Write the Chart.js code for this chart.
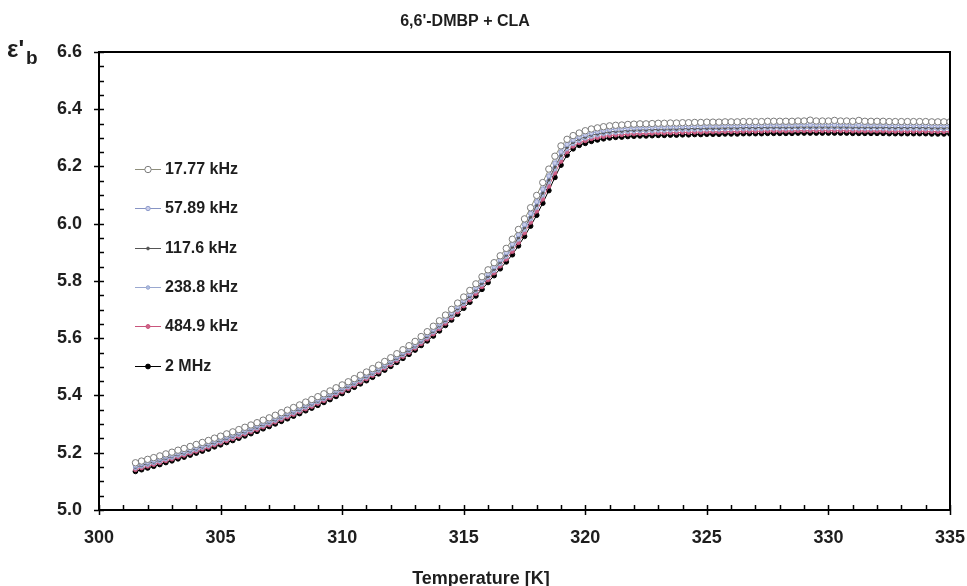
<!DOCTYPE html>
<html>
<head>
<meta charset="utf-8">
<script src="https://cdn.jsdelivr.net/npm/chart.js@4"></script>
<style>
  html, body { margin: 0; padding: 0; background: #fff; }
  canvas { display: block; }
</style>
</head>
<body>
<canvas id="epsChart" width="967" height="586"></canvas>
<script>
const temperature = [301.5,301.75,302,302.25,302.5,302.75,303,303.25,303.5,303.75,304,304.25,304.5,304.75,305,305.25,305.5,305.75,306,306.25,306.5,306.75,307,307.25,307.5,307.75,308,308.25,308.5,308.75,309,309.25,309.5,309.75,310,310.25,310.5,310.75,311,311.25,311.5,311.75,312,312.25,312.5,312.75,
  313,313.25,313.5,313.75,314,314.25,314.5,314.75,315,315.25,315.5,315.75,316,316.25,316.5,316.75,317,317.25,317.5,317.75,318,318.25,318.5,318.75,319,319.25,319.5,319.75,320,320.25,320.5,320.75,321,
  321.25,321.5,321.75,322,322.25,322.5,322.75,323,323.25,323.5,323.75,324,324.25,324.5,324.75,325,325.25,325.5,325.75,326,326.25,326.5,326.75,327,327.25,327.5,327.75,328,328.25,328.5,328.75,329,329.25,329.5,329.75,330,330.25,330.5,330.75,331,331.25,331.5,331.75,332,332.25,332.5,332.75,333,333.25,333.5,333.75,334,334.25,334.5,334.75,335];

const eps17k = [5.165,5.171,5.177,5.183,5.189,5.196,5.202,5.209,5.215,5.222,5.229,5.236,5.243,5.251,5.258,5.266,5.273,5.281,5.289,5.297,5.305,5.314,5.322,5.331,5.340,5.349,5.358,5.367,5.377,5.386,5.396,5.406,5.416,5.427,5.437,5.448,5.459,5.471,5.482,5.494,5.506,5.519,5.532,5.546,5.560,5.574,
  5.589,5.606,5.623,5.642,5.661,5.681,5.701,5.723,5.744,5.767,5.790,5.815,5.839,5.864,5.888,5.914,5.946,5.980,6.017,6.056,6.099,6.144,6.191,6.236,6.272,6.295,6.308,6.317,6.325,6.331,6.335,6.339,6.342,
  6.344,6.345,6.347,6.348,6.349,6.349,6.350,6.351,6.351,6.352,6.352,6.353,6.353,6.354,6.354,6.355,6.355,6.355,6.356,6.356,6.356,6.357,6.357,6.357,6.357,6.358,6.358,6.358,6.358,6.358,6.359,6.359,6.362,6.359,6.359,6.359,6.361,6.359,6.359,6.358,6.361,6.358,6.358,6.358,6.358,6.357,6.357,6.357,6.357,6.357,6.357,6.357,6.356,6.356,6.356,6.356];

const eps57k = [5.155,5.161,5.167,5.173,5.179,5.186,5.192,5.199,5.205,5.212,5.219,5.226,5.233,5.241,5.248,5.256,5.263,5.271,5.279,5.287,5.295,5.304,5.312,5.321,5.330,5.339,5.348,5.357,5.367,5.376,5.386,5.396,5.406,5.417,5.427,5.438,5.449,5.461,5.472,5.484,5.496,5.509,5.522,5.536,5.550,5.564,
  5.579,5.596,5.613,5.631,5.650,5.669,5.689,5.711,5.732,5.754,5.777,5.801,5.825,5.850,5.874,5.899,5.929,5.962,5.997,6.036,6.077,6.121,6.167,6.212,6.251,6.277,6.293,6.303,6.311,6.317,6.322,6.326,6.329,
  6.331,6.332,6.334,6.335,6.336,6.336,6.337,6.338,6.338,6.339,6.339,6.340,6.340,6.341,6.341,6.342,6.342,6.342,6.343,6.343,6.343,6.344,6.344,6.344,6.344,6.345,6.345,6.345,6.345,6.345,6.346,6.346,6.346,6.346,6.346,6.346,6.346,6.346,6.346,6.345,6.345,6.345,6.345,6.345,6.345,6.344,6.344,6.344,6.344,6.344,6.344,6.344,6.343,6.343,6.343,6.343];

const eps117k = [5.150,5.156,5.162,5.168,5.174,5.181,5.187,5.194,5.200,5.207,5.214,5.221,5.228,5.236,5.243,5.251,5.258,5.266,5.274,5.282,5.290,5.299,5.307,5.316,5.325,5.334,5.343,5.352,5.362,5.371,5.381,5.391,5.401,5.412,5.422,5.433,5.444,5.456,5.467,5.479,5.491,5.504,5.517,5.531,5.545,5.559,
  5.574,5.591,5.607,5.625,5.644,5.663,5.683,5.704,5.725,5.747,5.769,5.793,5.817,5.842,5.866,5.891,5.919,5.952,5.987,6.024,6.065,6.108,6.154,6.199,6.239,6.268,6.285,6.296,6.303,6.310,6.314,6.318,6.321,
  6.323,6.324,6.326,6.327,6.328,6.328,6.329,6.330,6.330,6.331,6.331,6.332,6.332,6.333,6.333,6.334,6.334,6.334,6.335,6.335,6.335,6.336,6.336,6.336,6.336,6.337,6.337,6.337,6.337,6.337,6.338,6.338,6.338,6.338,6.338,6.338,6.338,6.338,6.338,6.337,6.337,6.337,6.337,6.337,6.337,6.336,6.336,6.336,6.336,6.336,6.336,6.336,6.335,6.335,6.335,6.335];

const eps238k = [5.146,5.152,5.158,5.164,5.170,5.177,5.183,5.190,5.196,5.203,5.210,5.217,5.224,5.232,5.239,5.247,5.254,5.262,5.270,5.278,5.286,5.295,5.303,5.312,5.321,5.330,5.339,5.348,5.358,5.367,5.377,5.387,5.397,5.408,5.418,5.429,5.440,5.452,5.463,5.475,5.487,5.500,5.513,5.527,5.541,5.555,
  5.570,5.587,5.603,5.621,5.639,5.659,5.678,5.699,5.720,5.742,5.764,5.788,5.812,5.836,5.860,5.885,5.913,5.945,5.979,6.016,6.056,6.099,6.145,6.190,6.230,6.261,6.279,6.290,6.298,6.304,6.309,6.313,6.316,
  6.318,6.319,6.321,6.322,6.323,6.323,6.324,6.325,6.325,6.326,6.326,6.327,6.327,6.328,6.328,6.329,6.329,6.329,6.330,6.330,6.330,6.331,6.331,6.331,6.331,6.332,6.332,6.332,6.332,6.332,6.333,6.333,6.333,6.333,6.333,6.333,6.333,6.333,6.333,6.332,6.332,6.332,6.332,6.332,6.332,6.331,6.331,6.331,6.331,6.331,6.331,6.331,6.330,6.330,6.330,6.330];

const eps484k = [5.141,5.147,5.153,5.159,5.165,5.172,5.178,5.185,5.191,5.198,5.205,5.212,5.219,5.227,5.234,5.242,5.249,5.257,5.265,5.273,5.281,5.290,5.298,5.307,5.316,5.325,5.334,5.343,5.353,5.362,5.372,5.382,5.392,5.403,5.413,5.424,5.435,5.447,5.458,5.470,5.482,5.495,5.508,5.522,5.536,5.550,
  5.565,5.581,5.597,5.615,5.633,5.652,5.671,5.692,5.713,5.734,5.756,5.780,5.804,5.828,5.852,5.876,5.903,5.934,5.968,6.005,6.044,6.086,6.131,6.177,6.218,6.251,6.271,6.283,6.290,6.297,6.301,6.305,6.308,
  6.310,6.311,6.313,6.314,6.315,6.315,6.316,6.317,6.317,6.318,6.318,6.319,6.319,6.320,6.320,6.321,6.321,6.321,6.322,6.322,6.322,6.323,6.323,6.323,6.323,6.324,6.324,6.324,6.324,6.324,6.325,6.325,6.325,6.325,6.325,6.325,6.325,6.325,6.325,6.324,6.324,6.324,6.324,6.324,6.324,6.323,6.323,6.323,6.323,6.323,6.323,6.323,6.322,6.322,6.322,6.322];

const eps2M = [5.135,5.141,5.147,5.153,5.159,5.166,5.172,5.179,5.185,5.192,5.199,5.206,5.213,5.221,5.228,5.236,5.243,5.251,5.259,5.267,5.275,5.284,5.292,5.301,5.310,5.319,5.328,5.337,5.347,5.356,5.366,5.376,5.386,5.397,5.407,5.418,5.429,5.441,5.452,5.464,5.476,5.489,5.502,5.516,5.530,5.544,
  5.559,5.575,5.591,5.608,5.626,5.645,5.664,5.684,5.705,5.726,5.748,5.771,5.795,5.819,5.843,5.867,5.892,5.923,5.956,5.992,6.030,6.072,6.116,6.162,6.205,6.240,6.262,6.274,6.281,6.288,6.293,6.297,6.300,
  6.302,6.303,6.305,6.306,6.307,6.307,6.308,6.309,6.309,6.310,6.310,6.311,6.311,6.312,6.312,6.313,6.313,6.313,6.314,6.314,6.314,6.315,6.315,6.315,6.315,6.316,6.316,6.316,6.316,6.316,6.317,6.317,6.317,6.317,6.317,6.317,6.317,6.317,6.317,6.316,6.316,6.316,6.316,6.316,6.316,6.315,6.315,6.315,6.315,6.315,6.315,6.315,6.314,6.314,6.314,6.314];

const seriesLabels = ['17.77 kHz', '57.89 kHz', '117.6 kHz', '238.8 kHz', '484.9 kHz', '2 MHz'];
const seriesValues = [eps17k, eps57k, eps117k, eps238k, eps484k, eps2M];

const FONT = '"Liberation Sans", Arial, sans-serif';
const INK = '#1e1e1e';

// line colour, marker fill, marker edge, marker radius
const looks = [
  { line: '#8e8e7c', fill: '#ffffff', edge: '#7a7a7a', r: 3.2 },
  { line: '#8794c4', fill: '#c9cdeb', edge: '#8f9ccc', r: 2.2 },
  { line: '#555555', fill: '#555555', edge: '#555555', r: 1.4 },
  { line: '#9aa8d0', fill: '#aebde2', edge: '#9aa8d0', r: 1.8 },
  { line: '#c9557c', fill: '#d0648a', edge: '#c9557c', r: 2.0 },
  { line: '#000000', fill: '#000000', edge: '#000000', r: 2.4 }
];

const datasets = seriesLabels.map((label, i) => ({
  label: label,
  data: temperature.map((t, k) => ({ x: t, y: seriesValues[i][k] })),
  showLine: true,
  borderColor: looks[i].line,
  borderWidth: 1,
  pointRadius: looks[i].r,
  pointBackgroundColor: looks[i].fill,
  pointBorderColor: looks[i].edge,
  pointBorderWidth: 1,
  tension: 0
}));

const decor = {
  id: 'decor',
  afterDraw(chart) {
    const ctx = chart.ctx;
    const a = chart.chartArea;
    const xs = chart.scales.x, ys = chart.scales.y;
    ctx.save();

    // frame
    ctx.strokeStyle = '#000';
    ctx.lineWidth = 2;
    ctx.strokeRect(a.left, a.top, a.right - a.left, a.bottom - a.top);

    // x ticks: major cross the axis, minor inside
    ctx.lineWidth = 1.5;
    for (let t = 300; t <= 335; t++) {
      const px = Math.round(xs.getPixelForValue(t)) + 0.5;
      const major = t % 5 === 0;
      ctx.beginPath();
      ctx.moveTo(px, a.bottom - 5);
      ctx.lineTo(px, a.bottom + (major ? 5 : 0));
      ctx.stroke();
    }
    // y ticks
    for (let i = 0; i <= 32; i++) {
      const py = Math.round(ys.getPixelForValue(5 + i * 0.05)) + 0.5;
      const major = i % 4 === 0;
      ctx.beginPath();
      ctx.moveTo(a.left - (major ? 5 : 0), py);
      ctx.lineTo(a.left + 5, py);
      ctx.stroke();
    }

    ctx.fillStyle = INK;
    // title
    ctx.font = 'bold 16px ' + FONT;
    ctx.textAlign = 'center';
    ctx.textBaseline = 'alphabetic';
    ctx.fillText("6,6'-DMBP + CLA", 465, 26);

    // x axis title
    ctx.font = 'bold 18px ' + FONT;
    ctx.fillText('Temperature [K]', 481, 584);

    // y axis title  ε'b
    ctx.textAlign = 'left';
    ctx.font = 'bold 24px ' + FONT;
    ctx.fillText("\u03b5'", 7, 57);
    ctx.font = 'bold 19px ' + FONT;
    ctx.fillText('b', 26, 64);

    // legend
    const rows = [169, 208, 248, 287, 326, 366];
    chart.data.datasets.forEach((ds, i) => {
      const y = rows[i];
      ctx.strokeStyle = ds.borderColor;
      ctx.lineWidth = 1;
      ctx.beginPath();
      ctx.moveTo(135, y + 0.5);
      ctx.lineTo(161, y + 0.5);
      ctx.stroke();
      ctx.beginPath();
      ctx.arc(148, y + 0.5, ds.pointRadius, 0, Math.PI * 2);
      ctx.fillStyle = ds.pointBackgroundColor;
      ctx.fill();
      ctx.strokeStyle = ds.pointBorderColor;
      ctx.stroke();
      ctx.fillStyle = INK;
      ctx.font = 'bold 16px ' + FONT;
      ctx.textBaseline = 'middle';
      ctx.fillText(ds.label, 165, y + 1);
    });
    ctx.restore();
  }
};

new Chart(document.getElementById('epsChart'), {
  type: 'scatter',
  data: { datasets: datasets },
  options: {
    responsive: false,
    animation: false,
    devicePixelRatio: 1,
    layout: { padding: { left: 0, right: 17, top: 52, bottom: 0 } },
    plugins: {
      legend: { display: false },
      title: { display: false },
      tooltip: { enabled: false }
    },
    scales: {
      x: {
        type: 'linear',
        min: 300,
        max: 335,
        grid: { display: false, drawTicks: false },
        border: { display: false },
        ticks: {
          stepSize: 5,
          padding: 17,
          color: INK,
          font: { family: FONT, size: 18, weight: 'bold' },
          maxRotation: 0
        },
        afterFit(scale) {
          scale.height = 76;
          scale.paddingLeft = 0;
          scale.paddingRight = 0;
        }
      },
      y: {
        type: 'linear',
        min: 5.0,
        max: 6.6,
        grid: { display: false, drawTicks: false },
        border: { display: false },
        ticks: {
          stepSize: 0.2,
          padding: 17,
          color: INK,
          font: { family: FONT, size: 18, weight: 'bold' },
          callback: (v) => Number(v).toFixed(1)
        },
        afterFit(scale) {
          scale.width = 99;
          scale.paddingTop = 0;
          scale.paddingBottom = 0;
        }
      }
    }
  },
  plugins: [decor]
});
</script>
</body>
</html>
